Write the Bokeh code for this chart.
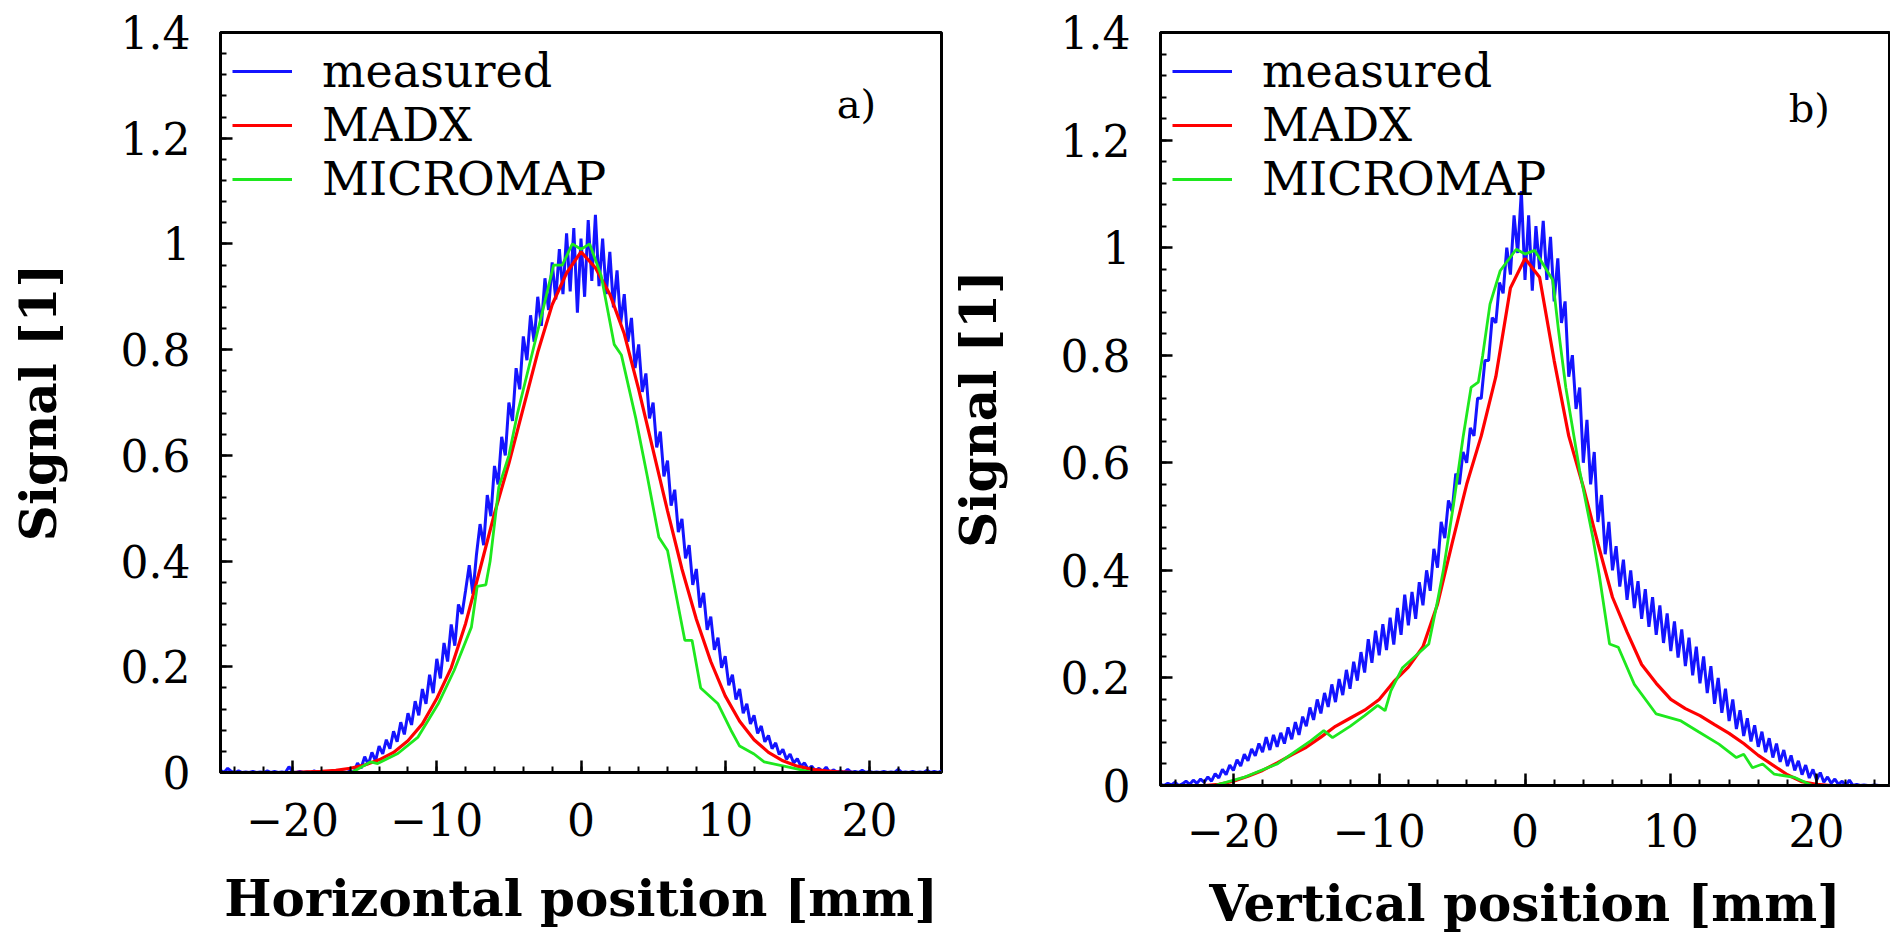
import numpy as np
from bokeh.plotting import figure
from bokeh.layouts import row
from bokeh.models import (Range1d, SingleIntervalTicker, FixedTicker, CustomJSTickFormatter,
                          Legend, LegendItem, Label)
from bokeh.embed import file_html
from bokeh.resources import INLINE

# ---------------- data ----------------
# measured profiles, sampled every 0.25 mm from -25 mm to +25 mm
meas_start_mm = -25.0
meas_end_mm = 25.0

h_measured = [
    0.004, 0.000, 0.008, 0.002, 0.000, 0.003, 0.000, 0.001,
    0.000, 0.002, 0.000, 0.001, 0.000, 0.003, 0.000, 0.002,
    0.000, 0.001, 0.000, 0.011, 0.001, 0.000, 0.002, 0.000,
    0.001, 0.000, 0.003, 0.000, 0.002, 0.000, 0.001, 0.000,
    0.002, 0.000, 0.001, 0.000, 0.003, 0.000, 0.018, 0.008,
    0.030, 0.015, 0.038, 0.022, 0.050, 0.035, 0.062, 0.045,
    0.078, 0.058, 0.095, 0.072, 0.112, 0.090, 0.135, 0.108,
    0.158, 0.130, 0.185, 0.150, 0.215, 0.178, 0.245, 0.210,
    0.280, 0.240, 0.318, 0.300, 0.345, 0.392, 0.338, 0.412,
    0.470, 0.430, 0.525, 0.485, 0.580, 0.545, 0.635, 0.600,
    0.700, 0.665, 0.765, 0.725, 0.825, 0.780, 0.865, 0.815,
    0.900, 0.845, 0.935, 0.875, 0.965, 0.895, 0.990, 0.905,
    1.020, 0.910, 1.030, 0.870, 1.010, 0.900, 1.045, 0.930,
    1.055, 0.920, 1.010, 0.905, 0.985, 0.880, 0.950, 0.850,
    0.905, 0.815, 0.860, 0.765, 0.810, 0.720, 0.755, 0.670,
    0.700, 0.615, 0.645, 0.560, 0.590, 0.505, 0.535, 0.455,
    0.480, 0.405, 0.430, 0.355, 0.385, 0.312, 0.340, 0.270,
    0.295, 0.232, 0.255, 0.198, 0.220, 0.165, 0.185, 0.138,
    0.158, 0.112, 0.130, 0.092, 0.108, 0.074, 0.088, 0.058,
    0.070, 0.045, 0.056, 0.034, 0.044, 0.025, 0.035, 0.018,
    0.026, 0.012, 0.018, 0.006, 0.012, 0.003, 0.008, 0.002,
    0.010, 0.000, 0.005, 0.001, 0.003, 0.000, 0.006, 0.000,
    0.002, 0.000, 0.004, 0.000, 0.002, 0.000, 0.001, 0.000,
    0.002, 0.000, 0.001, 0.000, 0.006, 0.000, 0.001, 0.000,
    0.002, 0.000, 0.001, 0.000, 0.004, 0.000, 0.002, 0.000,
    0.003,
]

v_measured = [
    0.002, 0.000, 0.004, 0.001, 0.006, 0.000, 0.003, 0.008,
    0.002, 0.010, 0.004, 0.012, 0.006, 0.016, 0.008, 0.022,
    0.014, 0.030, 0.020, 0.038, 0.028, 0.048, 0.036, 0.058,
    0.046, 0.068, 0.055, 0.078, 0.062, 0.090, 0.066, 0.094,
    0.072, 0.098, 0.078, 0.108, 0.086, 0.118, 0.094, 0.128,
    0.110, 0.145, 0.122, 0.160, 0.134, 0.172, 0.146, 0.188,
    0.155, 0.198, 0.168, 0.215, 0.180, 0.230, 0.195, 0.248,
    0.210, 0.272, 0.228, 0.288, 0.242, 0.300, 0.252, 0.312,
    0.262, 0.330, 0.280, 0.355, 0.298, 0.360, 0.310, 0.378,
    0.335, 0.400, 0.362, 0.440, 0.405, 0.490, 0.460, 0.530,
    0.510, 0.580, 0.560, 0.620, 0.600, 0.665, 0.650, 0.720,
    0.720, 0.790, 0.790, 0.870, 0.860, 0.935, 0.915, 1.000,
    0.950, 1.060, 0.990, 1.105, 0.940, 1.060, 0.920, 1.040,
    0.960, 1.050, 0.940, 1.020, 0.900, 0.980, 0.860, 0.900,
    0.760, 0.800, 0.700, 0.740, 0.600, 0.680, 0.560, 0.620,
    0.490, 0.540, 0.430, 0.490, 0.400, 0.445, 0.370, 0.420,
    0.345, 0.400, 0.330, 0.380, 0.310, 0.365, 0.295, 0.350,
    0.280, 0.335, 0.265, 0.320, 0.250, 0.305, 0.238, 0.290,
    0.222, 0.275, 0.205, 0.258, 0.190, 0.240, 0.172, 0.222,
    0.152, 0.200, 0.135, 0.180, 0.120, 0.160, 0.105, 0.140,
    0.092, 0.125, 0.082, 0.112, 0.072, 0.100, 0.062, 0.088,
    0.052, 0.078, 0.044, 0.066, 0.036, 0.056, 0.028, 0.046,
    0.020, 0.038, 0.014, 0.030, 0.010, 0.024, 0.006, 0.016,
    0.004, 0.012, 0.002, 0.008, 0.000, 0.010, 0.000, 0.002,
    0.000, 0.001, 0.000, 0.000, 0.001, 0.000, 0.000, 0.000,
    0.000,
]

# MADX simulation, every 1 mm from -25 to 25 mm
madx_pos = list(range(-25, 26))
h_madx = [0, 0, 0, 0, 0, 0,
          0.001, 0.002, 0.004, 0.008, 0.014, 0.024, 0.038, 0.060, 0.092, 0.140,
          0.198, 0.282, 0.385, 0.490, 0.585, 0.690, 0.795, 0.885, 0.945, 0.985,
          0.955, 0.905, 0.830, 0.725, 0.610, 0.495, 0.385, 0.290, 0.210, 0.145,
          0.097, 0.062, 0.038, 0.022, 0.012, 0.006, 0.003, 0.001,
          0, 0, 0, 0, 0, 0, 0]
v_madx = [0, 0, 0, 0,
          0.002, 0.008, 0.017, 0.028, 0.042, 0.057, 0.071, 0.090, 0.110, 0.125,
          0.140, 0.160, 0.193, 0.220, 0.258, 0.337, 0.450, 0.560, 0.650, 0.760,
          0.925, 0.980, 0.945, 0.790, 0.650, 0.555, 0.450, 0.350, 0.285, 0.225,
          0.190, 0.160, 0.143, 0.130, 0.113, 0.097, 0.078, 0.056, 0.038, 0.020,
          0.007, 0.002, 0,
          0, 0, 0, 0]

# MICROMAP simulation (polyline vertices)
h_micromap_pos = [-25, -15.9, -14.6, -14.1, -12.7, -11.3, -9.9, -8.8, -7.6, -7.2,
                  -6.6, -6.3, -5.7, -5.0, -4.4, -3.5, -2.6, -1.9, -1.3, -0.6,
                  0.0, 0.6, 1.4, 2.3, 2.8, 3.8, 4.6, 5.4, 6.0, 7.2,
                  7.7, 8.3, 9.5, 10.4, 11.0, 12.0, 12.7, 14.4, 16.1, 25]
h_micromap = [0, 0, 0.02, 0.017, 0.036, 0.067, 0.13, 0.193, 0.275, 0.352,
              0.355, 0.40, 0.54, 0.60, 0.68, 0.78, 0.88, 0.96, 0.96, 1.0,
              0.99, 1.0, 0.94, 0.81, 0.79, 0.67, 0.56, 0.445, 0.42, 0.25,
              0.25, 0.16, 0.13, 0.08, 0.05, 0.035, 0.02, 0.01, 0, 0]

v_micromap_pos = [-25, -21.3, -19.3, -17.0, -14.7, -13.8, -13.2, -12.0, -11.0, -10.1,
                  -9.6, -9.2, -8.4, -6.6, -6.0, -5.6, -4.9, -4.25, -3.7, -3.2,
                  -2.9, -2.4, -1.7, -0.6, 0.0, 0.66, 1.9, 2.3, 2.8, 3.75,
                  4.66, 5.1, 5.8, 6.4, 7.5, 9.0, 10.7, 11.9, 13.3, 14.5,
                  15.0, 15.6, 16.3, 17.1, 18.5, 19.7, 25]
v_micromap = [0, 0, 0.015, 0.04, 0.083, 0.102, 0.089, 0.11, 0.13, 0.149,
              0.139, 0.176, 0.219, 0.263, 0.343, 0.40, 0.523, 0.647, 0.74, 0.75,
              0.80, 0.895, 0.957, 0.997, 0.988, 0.995, 0.94, 0.846, 0.74, 0.585,
              0.46, 0.39, 0.263, 0.257, 0.188, 0.133, 0.12, 0.10, 0.077, 0.052,
              0.058, 0.033, 0.04, 0.021, 0.015, 0, 0]

series_names = ["measured", "MADX", "MICROMAP"]
series_colors = ["#1414ff", "#ff0000", "#1ee81e"]
x_titles = ["Horizontal position [mm]", "Vertical position [mm]"]
y_title = "Signal [1]"
panel_tags = ["a)", "b)"]
y_major_ticks = [0, 0.2, 0.4, 0.6, 0.8, 1.0, 1.2, 1.4]

FONT = "DejaVu Serif"

x_fmt = CustomJSTickFormatter(code="""
    return tick < 0 ? '\\u2212' + Math.abs(tick) : String(tick);
""")
y_fmt = CustomJSTickFormatter(code="""
    return String(Math.round(tick * 10) / 10);
""")


def make_panel(meas, madx, mm_pos, mm_val, xtitle, tag, tag_xy, geo, stand):
    left, fw, fh, top, total_w, total_h = geo
    p = figure(width=total_w, height=total_h,
               frame_width=fw, frame_height=fh,
               min_border_left=left, min_border_right=total_w - left - fw,
               min_border_top=top, min_border_bottom=total_h - top - fh,
               x_range=Range1d(-25, 25), y_range=Range1d(0, 1.4),
               output_backend="svg", toolbar_location=None,
               background_fill_color="white", border_fill_color="white")
    p.xgrid.visible = False
    p.ygrid.visible = False
    p.outline_line_color = "black"
    p.outline_line_width = 3
    p.outline_line_alpha = 1.0

    xm = np.linspace(meas_start_mm, meas_end_mm, len(meas))
    r1 = p.line(xm, meas, line_color=series_colors[0], line_width=3)
    r2 = p.line(madx_pos, madx, line_color=series_colors[1], line_width=3.2)
    r3 = p.line(mm_pos, mm_val, line_color=series_colors[2], line_width=2.8)

    p.xaxis.ticker = SingleIntervalTicker(interval=10, num_minor_ticks=5)
    minor = [round(0.04 * i, 2) for i in range(36)]
    p.yaxis.ticker = FixedTicker(ticks=y_major_ticks, minor_ticks=minor)
    p.xaxis.formatter = x_fmt
    p.yaxis.formatter = y_fmt
    for ax in (p.xaxis[0], p.yaxis[0]):
        ax.axis_line_color = "black"
        ax.axis_line_width = 3
        ax.major_tick_in = 12
        ax.major_tick_out = 0
        ax.minor_tick_in = 6
        ax.minor_tick_out = 0
        ax.major_tick_line_width = 2.5
        ax.minor_tick_line_width = 2
        ax.major_tick_line_color = "black"
        ax.minor_tick_line_color = "black"
        ax.major_label_text_font = FONT
        ax.major_label_text_font_size = "44px"
        ax.major_label_text_color = "black"
        ax.axis_label_text_font = FONT
        ax.axis_label_text_font_style = "bold"
        ax.axis_label_text_font_size = "50px"
        ax.axis_label_text_color = "black"
    p.xaxis.axis_label = xtitle
    p.yaxis.axis_label = y_title
    p.xaxis.major_label_standoff = stand[0]
    p.xaxis.axis_label_standoff = stand[1]
    p.yaxis.major_label_standoff = 30
    p.yaxis.axis_label_standoff = 50

    legend = Legend(items=[LegendItem(label=series_names[0], renderers=[r1]),
                           LegendItem(label=series_names[1], renderers=[r2]),
                           LegendItem(label=series_names[2], renderers=[r3])],
                    location="top_left")
    legend.label_text_font = FONT
    legend.label_text_font_size = "46px"
    legend.label_text_color = "black"
    legend.glyph_width = 60
    legend.glyph_height = 40
    legend.label_height = 40
    legend.label_standoff = 30
    legend.spacing = 0
    legend.padding = 10
    legend.margin = 2
    legend.border_line_alpha = 0
    legend.background_fill_alpha = 0
    p.add_layout(legend)

    p.add_layout(Label(x=tag_xy[0], y=tag_xy[1], text=tag,
                       text_font=FONT, text_font_size="40px",
                       text_align="center", text_baseline="middle",
                       text_color="black"))
    return p


p1 = make_panel(h_measured, h_madx, h_micromap_pos, h_micromap,
                x_titles[0], panel_tags[0], (19.1, 1.265),
                (220, 721, 740, 32, 945, 933), (30, 30))
p2 = make_panel(v_measured, v_madx, v_micromap_pos, v_micromap,
                x_titles[1], panel_tags[1], (19.5, 1.26),
                (213, 729, 753, 25, 945, 933), (28, 24))

layout = row(p1, p2, spacing=0)
open("out.html", "w").write(file_html(layout, INLINE))
